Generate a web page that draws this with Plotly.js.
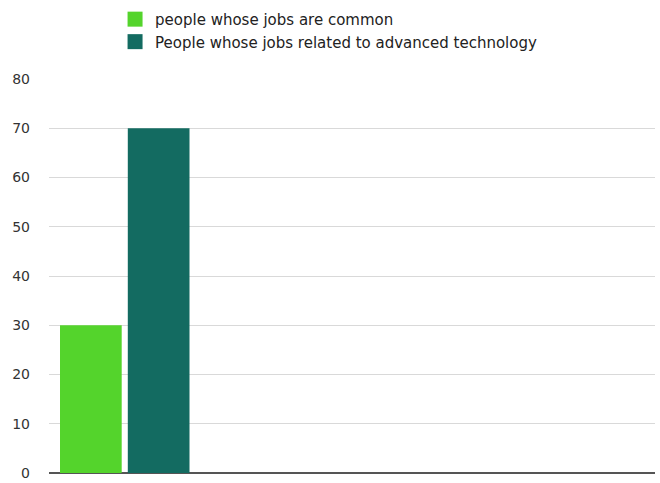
<!DOCTYPE html>
<html>
<head>
<meta charset="utf-8">
<script src="https://cdn.plot.ly/plotly-3.0.1.min.js"></script>
<style>html,body{margin:0;padding:0;background:#fff;}#chart{width:660px;height:483px;}</style>
</head>
<body>
<div id="chart"></div>
<script>
const categories = [""];
const seriesNames = ["people whose jobs are common", "People whose jobs related to advanced technology"];
const seriesColors = ["#54d42c", "#136b61"];
const commonValues = [30];
const advancedValues = [70];
const yTicks = [0, 10, 20, 30, 40, 50, 60, 70, 80];

const traces = [
  {type: "bar", name: seriesNames[0], x: categories, y: commonValues, showlegend: false,
   marker: {color: seriesColors[0], line: {width: 0}}, hoverinfo: "y"},
  {type: "bar", name: seriesNames[1], x: categories, y: advancedValues, showlegend: false,
   marker: {color: seriesColors[1], line: {width: 0}}, hoverinfo: "y"},
  {type: "scatter", mode: "markers", name: seriesNames[0], x: [null], y: [null],
   marker: {symbol: "square", size: 15, color: seriesColors[0]}},
  {type: "scatter", mode: "markers", name: seriesNames[1], x: [null], y: [null],
   marker: {symbol: "square", size: 15, color: seriesColors[1]}}
];

const layout = {
  width: 660, height: 483,
  margin: {l: 49, r: 5, t: 79, b: 10},
  paper_bgcolor: "#fff", plot_bgcolor: "#fff",
  font: {family: "DejaVu Sans, Verdana, sans-serif", size: 14, color: "#333"},
  barmode: "group",
  bargap: 0.105,
  bargroupgap: 0.09,
  showlegend: true,
  legend: {x: 0.109, xanchor: "left", y: 0.994, yanchor: "top", yref: "container",
           orientation: "v", font: {size: 15, color: "#222"}, bgcolor: "rgba(0,0,0,0)",
           itemsizing: "trace", tracegroupgap: 0},
  xaxis: {type: "category", range: [-0.5, 3.5], showticklabels: false, showgrid: false,
          zeroline: false, showline: false, ticks: ""},
  yaxis: {range: [0, 80], tickvals: yTicks, showgrid: true, gridcolor: "#d9d9d9", gridwidth: 1,
          zeroline: true, zerolinecolor: "#555", zerolinewidth: 2, showline: false,
          ticks: "", ticklabelstandoff: 18, tickfont: {size: 14, color: "#333"}}
};
Plotly.newPlot("chart", traces, layout, {displayModeBar: false, staticPlot: true});
</script>
</body>
</html>
